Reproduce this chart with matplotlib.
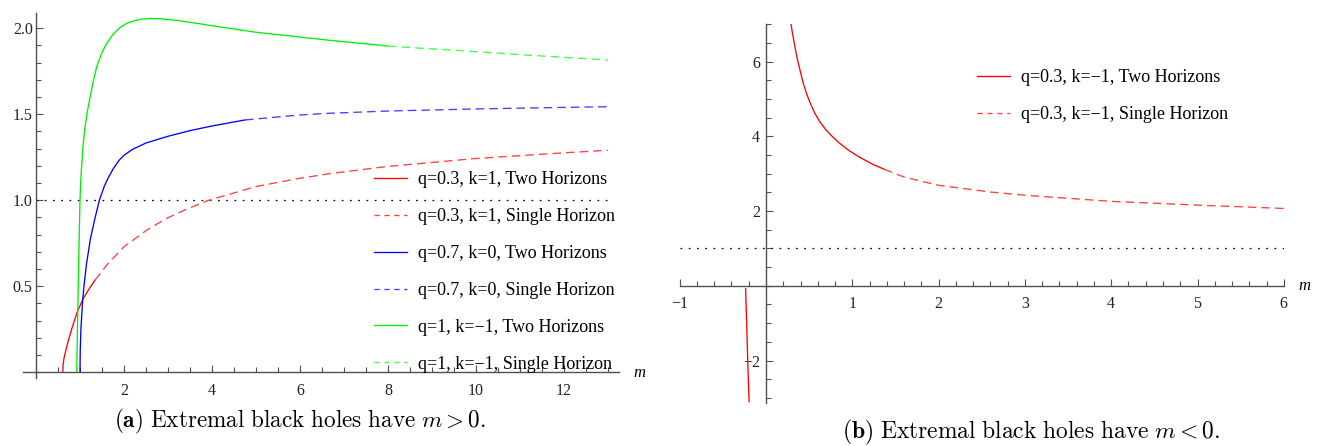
import numpy as np
import matplotlib
matplotlib.use("Agg")
import matplotlib.pyplot as plt
from matplotlib.ticker import MultipleLocator, FixedLocator
from matplotlib.lines import Line2D

plt.rcParams['mathtext.fontset'] = 'cm'
SERIF = ['Liberation Serif', 'DejaVu Serif']

# ---------------- data ----------------
# Panel (a): m > 0
red_a_two_m = [0.61, 0.615, 0.635, 0.67, 0.72, 0.81, 0.94, 1.075, 1.23, 1.34]
red_a_two_v = [0.0, 0.04, 0.08, 0.12, 0.17, 0.25, 0.352, 0.43, 0.494, 0.535]
red_a_single_m = [1.34, 1.61, 2.0, 2.52, 2.97, 3.42, 3.9, 5.0, 6.0, 6.68, 8.0, 10.0, 12.0, 13.0]
red_a_single_v = [0.535, 0.624, 0.73, 0.827, 0.895, 0.948, 0.998, 1.08, 1.128, 1.155, 1.197, 1.243, 1.276, 1.291]

blue_two_m = [1.0, 1.005, 1.02, 1.06, 1.09, 1.15, 1.24, 1.34, 1.44, 1.55, 1.64, 1.76, 1.88, 2.0,
              2.2, 2.5, 3.0, 3.5, 4.0, 4.75]
blue_two_v = [0.0, 0.12, 0.246, 0.42, 0.5, 0.635, 0.78, 0.895, 1.0, 1.08, 1.13, 1.185, 1.23, 1.262,
              1.297, 1.333, 1.372, 1.405, 1.432, 1.467]
blue_single_m = [4.75, 6.0, 6.68, 8.0, 10.0, 12.0, 13.0]
blue_single_v = [1.467, 1.496, 1.506, 1.519, 1.531, 1.54, 1.544]

green_two_m = [0.925, 0.96, 0.98, 1.0, 1.015, 1.03, 1.07, 1.11, 1.17, 1.23, 1.3, 1.38, 1.5, 1.61,
               1.75, 1.91, 2.05, 2.21, 2.4, 2.59, 2.8, 3.2, 3.7, 4.18, 5.0, 6.0, 6.68, 8.0]
green_two_v = [0.0, 0.5, 0.77, 1.0, 1.1, 1.17, 1.32, 1.42, 1.52, 1.60, 1.69, 1.777, 1.86, 1.913,
               1.965, 2.005, 2.027, 2.042, 2.053, 2.057, 2.056, 2.046, 2.027, 2.008, 1.977, 1.949,
               1.93, 1.897]
green_single_m = [8.0, 9.0, 10.0, 11.0, 12.0, 13.0]
green_single_v = [1.897, 1.88, 1.864, 1.847, 1.831, 1.816]

# Panel (b): m < 0
red_b_two_m = [0.29, 0.31, 0.336, 0.36, 0.394, 0.43, 0.47, 0.52, 0.568, 0.63, 0.70, 0.78, 0.857,
               0.95, 1.05, 1.15, 1.24, 1.37]
red_b_two_v = [7.0, 6.72, 6.39, 6.1, 5.77, 5.44, 5.14, 4.85, 4.61, 4.37, 4.16, 3.97, 3.81,
               3.64, 3.49, 3.36, 3.25, 3.12]
red_b_neg_m = [-0.236, -0.224, -0.212, -0.196]
red_b_neg_v = [-0.08, -1.0, -2.0, -3.1]
red_b_single_m = [1.37, 1.6, 2.0, 2.6, 3.0, 4.0, 5.0, 6.0]
red_b_single_v = [3.12, 2.91, 2.69, 2.51, 2.425, 2.26, 2.16, 2.07]

labels_a = ["q=0.3, k=1, Two Horizons", "q=0.3, k=1, Single Horizon",
            "q=0.7, k=0, Two Horizons", "q=0.7, k=0, Single Horizon",
            "q=1, k=\u22121, Two Horizons", "q=1, k=\u22121, Single Horizon"]
labels_b = ["q=0.3, k=\u22121, Two Horizons", "q=0.3, k=\u22121, Single Horizon"]

RED, BLUE, GREEN = '#ff0000', '#0000ff', '#00f000'
RED_L, BLUE_L, GREEN_L = '#ff4040', '#4040ff', '#40ff40'
DASH = (0, (6.5, 3.8))
LDASH = (0, (4, 3.5))
DOT = (0, (1.4, 5.2))
LW = 0.95
AXC = '#505050'

W, H = 1317, 446
fig = plt.figure(figsize=(W / 100, H / 100), dpi=100)


def style_axes(ax, fs=11.5):
    for s in ['top', 'right']:
        ax.spines[s].set_visible(False)
    ax.spines['left'].set_position(('data', 0))
    ax.spines['bottom'].set_position(('data', 0))
    for s in ['left', 'bottom']:
        ax.spines[s].set_color(AXC)
        ax.spines[s].set_linewidth(1.0)
    ax.tick_params(which='major', direction='in', length=5, width=0.8, color=AXC,
                   labelsize=fs, labelcolor='#222222')
    ax.tick_params(which='minor', direction='in', length=3.4, width=0.8, color=AXC)
    for lab in ax.get_xticklabels() + ax.get_yticklabels():
        lab.set_family(SERIF)
    ax.set_facecolor('none')


def legend(ax, handles, labels, x_px, top_px):
    return ax.legend(handles, labels, loc='upper left', frameon=False,
                     bbox_to_anchor=(x_px / W, (H - top_px) / H), bbox_transform=fig.transFigure,
                     prop={'family': SERIF, 'size': 13}, handlelength=1.85,
                     handletextpad=0.6, labelspacing=1.105, borderpad=0, borderaxespad=0)


# ---------------- panel (a) ----------------
axa = fig.add_axes([22.8 / W, (H - 378.3) / H, 596.2 / W, 365.5 / H])
axa.set_xlim(-0.3, 13.25)
axa.set_ylim(-0.035, 2.09)
axa.plot([0, 13], [1, 1], color='black', lw=0.9, linestyle=DOT)
axa.plot(red_a_two_m, red_a_two_v, color=RED, lw=LW)
axa.plot(red_a_single_m, red_a_single_v, color=RED_L, lw=LW, linestyle=DASH)
axa.plot(blue_two_m, blue_two_v, color=BLUE, lw=LW)
axa.plot(blue_single_m, blue_single_v, color=BLUE_L, lw=LW, linestyle=DASH)
axa.plot(green_two_m, green_two_v, color=GREEN, lw=LW)
axa.plot(green_single_m, green_single_v, color=GREEN_L, lw=LW, linestyle=DASH)
axa.xaxis.set_major_locator(FixedLocator([2, 4, 6, 8, 10, 12]))
axa.xaxis.set_minor_locator(MultipleLocator(0.5))
axa.yaxis.set_major_locator(FixedLocator([0.5, 1.0, 1.5, 2.0]))
axa.yaxis.set_minor_locator(MultipleLocator(0.1))
axa.set_yticklabels(['0.5', '1.0', '1.5', '2.0'])
style_axes(axa)
axa.tick_params(axis='y', pad=2.4)
axa.tick_params(axis='x', pad=8)

handles_a = [Line2D([], [], color=RED, lw=LW),
             Line2D([], [], color=RED_L, lw=LW, linestyle=LDASH),
             Line2D([], [], color=BLUE, lw=LW),
             Line2D([], [], color=BLUE_L, lw=LW, linestyle=LDASH),
             Line2D([], [], color=GREEN, lw=LW),
             Line2D([], [], color=GREEN_L, lw=LW, linestyle=LDASH)]
legend(axa, handles_a, labels_a, 374, 171)

fig.text(639 / W, 1 - 373 / H, 'm', family=SERIF, style='italic', fontsize=12,
         ha='center', va='center')

# ---------------- panel (b) ----------------
axb = fig.add_axes([679.7 / W, (H - 403.1) / H, 604.1 / W, 378.8 / H])
axb.set_xlim(-1, 6)
axb.set_ylim(-3.14, 7.0)
axb.plot([-1, 6], [1, 1], color='black', lw=0.9, linestyle=DOT)
axb.plot(red_b_two_m, red_b_two_v, color=RED, lw=LW)
axb.plot(red_b_neg_m, red_b_neg_v, color=RED, lw=LW)
axb.plot(red_b_single_m, red_b_single_v, color=RED_L, lw=LW, linestyle=DASH)
axb.xaxis.set_major_locator(FixedLocator([-1, 1, 2, 3, 4, 5, 6]))
axb.xaxis.set_minor_locator(MultipleLocator(0.2))
axb.yaxis.set_major_locator(FixedLocator([-2, 2, 4, 6]))
axb.yaxis.set_minor_locator(MultipleLocator(0.5))
style_axes(axb)
axb.tick_params(axis='y', pad=4.5)
axb.tick_params(axis='x', pad=7)

handles_b = [Line2D([], [], color=RED, lw=LW),
             Line2D([], [], color=RED_L, lw=LW, linestyle=LDASH)]
legend(axb, handles_b, labels_b, 977, 69.5)

fig.text(1304 / W, 1 - 286 / H, 'm', family=SERIF, style='italic', fontsize=12,
         ha='center', va='center')

# ---------------- captions ----------------
fig.text(114 / W, 1 - 421 / H,
         r'$\mathbf{(a)}\ \mathrm{Extremal\ black\ holes\ have}\ m>0.$',
         fontsize=16.7, ha='left', va='center')
fig.text(842 / W, 1 - 432 / H,
         r'$\mathbf{(b)}\ \mathrm{Extremal\ black\ holes\ have}\ m<0.$',
         fontsize=16.9, ha='left', va='center')

fig.savefig('out.png', dpi=100)
